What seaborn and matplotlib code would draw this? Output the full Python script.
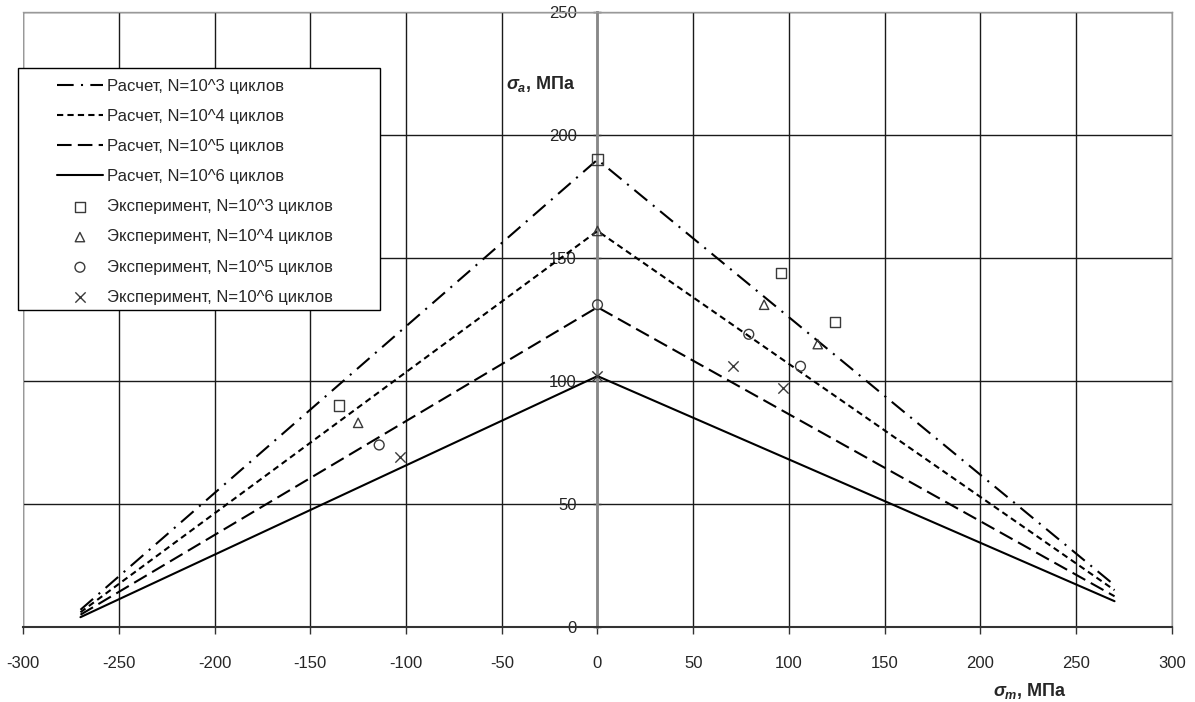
import numpy as np
import pandas as pd
import seaborn as sns
import matplotlib.pyplot as plt
from matplotlib.patches import Rectangle

# calculated curves (sigma_m, sigma_a), MPa
sigma_m_calc = [-270, 0, 270]
calc_1e3 = [7, 190, 17]
calc_1e4 = [6, 161, 15]
calc_1e5 = [5, 130, 12.5]
calc_1e6 = [4, 102, 10.5]

# experimental points
exp_1e3_x = [-135, 0, 96, 124]
exp_1e3_y = [90, 190, 144, 124]
exp_1e4_x = [-125, 0, 87, 115]
exp_1e4_y = [83, 161, 131, 115]
exp_1e5_x = [-114, 0, 79, 106]
exp_1e5_y = [74, 131, 119, 106]
exp_1e6_x = [-103, 0, 71, 97]
exp_1e6_y = [69, 102, 106, 97]

calc_labels = ['Расчет, N=10^3 циклов', 'Расчет, N=10^4 циклов',
               'Расчет, N=10^5 циклов', 'Расчет, N=10^6 циклов']
exp_labels = ['Эксперимент, N=10^3 циклов', 'Эксперимент, N=10^4 циклов',
              'Эксперимент, N=10^5 циклов', 'Эксперимент, N=10^6 циклов']

sns.set_theme(style='white')
plt.rcParams['font.family'] = ['Liberation Sans', 'DejaVu Sans']
plt.rcParams['axes.unicode_minus'] = False
plt.rcParams['mathtext.fontset'] = 'custom'
plt.rcParams['mathtext.it'] = 'Liberation Sans:italic:bold'
plt.rcParams['mathtext.rm'] = 'Liberation Sans:bold'

fig = plt.figure(figsize=(11.95, 7.02), dpi=100)
ax = fig.add_axes([0.01925, 0.1068, 0.9615, 0.8761])

styles = [(0, (8, 3.5, 1, 3.5)), (0, (3, 2)), (0, (7, 3)), '-']
for yv, lab, ls in zip([calc_1e3, calc_1e4, calc_1e5, calc_1e6], calc_labels, styles):
    sns.lineplot(x=sigma_m_calc, y=yv, ax=ax, color='black', lw=1.5,
                 linestyle=ls, label=lab, legend=False, zorder=3)

ec = '#3a3a3a'
sns.scatterplot(x=exp_1e3_x, y=exp_1e3_y, ax=ax, marker='s', s=55, facecolor='none',
                edgecolor=ec, linewidth=1, label=exp_labels[0], legend=False, zorder=4)
sns.scatterplot(x=exp_1e4_x, y=exp_1e4_y, ax=ax, marker='^', s=45, facecolor='none',
                edgecolor=ec, linewidth=1, label=exp_labels[1], legend=False, zorder=4)
sns.scatterplot(x=exp_1e5_x, y=exp_1e5_y, ax=ax, marker='o', s=50, facecolor='none',
                edgecolor=ec, linewidth=1, label=exp_labels[2], legend=False, zorder=4)
sns.scatterplot(x=exp_1e6_x, y=exp_1e6_y, ax=ax, marker='x', s=55, color=ec,
                linewidth=1, label=exp_labels[3], legend=False, zorder=4)

if ax.get_legend() is not None:
    ax.get_legend().remove()

ax.set_xlim(-300, 300)
ax.set_ylim(0, 250)
ax.set_xticks(np.arange(-300, 301, 50))
ax.set_yticks(np.arange(0, 251, 50))
ax.grid(True, color='#1a1a1a', lw=1)
ax.set_axisbelow(True)

# frame and central axis
ax.spines['left'].set_position(('data', 0))
ax.spines['left'].set_color('#888888')
ax.spines['left'].set_linewidth(2)
for s in ['top', 'right']:
    ax.spines[s].set_color('#999999')
    ax.spines[s].set_linewidth(1)
ax.spines['bottom'].set_color('#333333')
ax.spines['bottom'].set_linewidth(1.5)
ax.axvline(-300, color='#999999', lw=1.5, zorder=2)

ax.tick_params(axis='x', direction='out', length=5, width=1, color='#333333',
               pad=16, labelsize=12, bottom=True)
ax.tick_params(axis='y', direction='inout', length=6, width=1, color='#333333',
               pad=12, labelsize=12, left=True)

ax.set_xlabel(r'$\sigma_m$, МПа', fontsize=13, fontweight='bold')
ax.xaxis.set_label_coords(0.876, -0.088)
ax.set_ylabel(r'$\sigma_a$, МПа', fontsize=13, fontweight='bold', rotation=0)
ax.yaxis.set_label_coords(0.451, 0.867)

# legend
rect = Rectangle((0.01506, 0.5584), 0.3029, 0.3447, transform=fig.transFigure,
                 facecolor='white', edgecolor='black', lw=1, zorder=4.5)
fig.add_artist(rect)
handles, labels = ax.get_legend_handles_labels()
leg = fig.legend(handles, labels, loc='upper left', bbox_to_anchor=(0.0477, 0.888),
                 frameon=False, fontsize=12, borderpad=0, borderaxespad=0,
                 handlelength=2.75, handletextpad=0.24, labelspacing=0.91,
                 scatterpoints=1)
leg.set_zorder(5)

fig.savefig('out.png', dpi=100)
